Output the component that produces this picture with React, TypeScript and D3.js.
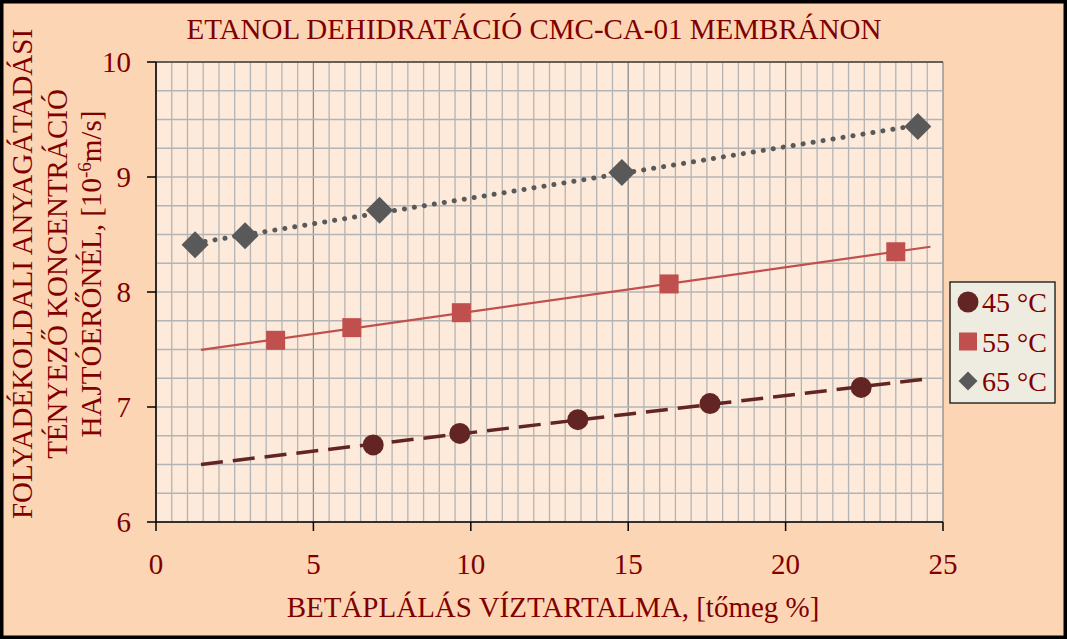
import React from "react";
import * as d3 from "d3";

const W = 1067;
const H = 639;

const title = "ETANOL DEHIDRATÁCIÓ CMC-CA-01 MEMBRÁNON";
const xTitle = "BETÁPLÁLÁS VÍZTARTALMA, [tőmeg %]";
const yTitleLines = ["FOLYADÉKOLDALI ANYAGÁTADÁSI", "TÉNYEZŐ KONCENTRÁCIÓ", "HAJTÓERŐNÉL, [10"];

const xTicks = [0, 5, 10, 15, 20, 25];
const yTicks = [6, 7, 8, 9, 10];

const seriesNames = ["45 °C", "55 °C", "65 °C"];

const x45 = [6.9, 9.65, 13.4, 17.6, 22.4];
const y45 = [6.67, 6.77, 6.89, 7.03, 7.17];
const x55 = [3.8, 6.22, 9.7, 16.3, 23.5];
const y55 = [7.58, 7.69, 7.82, 8.07, 8.35];
const x65 = [1.24, 2.83, 7.1, 14.8, 24.2];
const y65 = [8.41, 8.49, 8.71, 9.04, 9.44];

const trendRange45 = [1.43, 24.5];
const trendRange55 = [1.43, 24.6];
const trendRange65 = [1.24, 24.2];

const colors = ["#632523", "#C0504D", "#595959"];
const textColor = "#800000";
const font = "'Liberation Serif', 'Times New Roman', serif";

const plot = { left: 156, right: 943, top: 62, bottom: 522 };

function fit(xs: number[], ys: number[]) {
  const mx = d3.mean(xs)!;
  const my = d3.mean(ys)!;
  let num = 0, den = 0;
  xs.forEach((x, i) => { num += (x - mx) * (ys[i] - my); den += (x - mx) * (x - mx); });
  const b = num / den;
  const a = my - b * mx;
  return (x: number) => a + b * x;
}

export default function App() {
  const x = d3.scaleLinear().domain([0, 25]).range([plot.left, plot.right]);
  const y = d3.scaleLinear().domain([6, 10]).range([plot.bottom, plot.top]);

  const xMinor = d3.range(0, 25.001, 0.5);
  const yMinor = d3.range(6, 10.001, 0.25);

  const series = [
    { xs: x45, ys: y45, range: trendRange45 },
    { xs: x55, ys: y55, range: trendRange55 },
    { xs: x65, ys: y65, range: trendRange65 },
  ];

  const line = d3.line<[number, number]>().x((d) => x(d[0])).y((d) => y(d[1]));

  const marker = (i: number, cx: number, cy: number, key: string | number, legend = false) => {
    if (i === 0) return <circle key={key} cx={cx} cy={cy} r={10.5} fill={colors[0]} />;
    if (i === 1) {
      const s = legend ? 18 : 19;
      return <rect key={key} x={cx - s / 2} y={cy - s / 2} width={s} height={s} fill={colors[1]} />;
    }
    const r = legend ? 9.5 : 13.5;
    return (
      <path key={key} d={`M${cx},${cy - r}L${cx + r},${cy}L${cx},${cy + r}L${cx - r},${cy}Z`} fill={colors[2]} />
    );
  };

  const dashes = ["22,10", "", "0.1,10"];
  const widths = [3.5, 2.2, 5];
  const caps = ["butt", "butt", "round"];

  return (
    <svg width={W} height={H} style={{ position: "absolute", left: 0, top: 0 }} fontFamily={font}>
      <rect x={0} y={0} width={W} height={H} fill="#FCD5B5" />
      <rect x={1.5} y={1.5} width={W - 3} height={H - 3} fill="none" stroke="#000" strokeWidth={4} />
      <text x={534} y={38.5} textAnchor="middle" fontSize={29} fill={textColor}>{title}</text>

      <rect x={plot.left} y={plot.top} width={plot.right - plot.left} height={plot.bottom - plot.top} fill="#FDEADA" />
      {xMinor.map((v, i) => (
        <line key={"xg" + i} x1={x(v)} x2={x(v)} y1={plot.top} y2={plot.bottom}
          stroke={i % 10 === 0 ? "#8c8c8c" : "#b4b4b4"} strokeWidth={1.3} />
      ))}
      {yMinor.map((v, i) => (
        <line key={"yg" + i} x1={plot.left} x2={plot.right} y1={y(v)} y2={y(v)}
          stroke="#b4b4b4" strokeWidth={1.3} />
      ))}
      <line x1={plot.left} x2={plot.left} y1={plot.top} y2={plot.bottom} stroke="#000" strokeWidth={1.5} />
      <line x1={plot.left} x2={plot.right} y1={plot.bottom} y2={plot.bottom} stroke="#000" strokeWidth={1.5} />
      <line x1={plot.left} x2={plot.right} y1={plot.top} y2={plot.top} stroke="#000" strokeWidth={1} />

      {yTicks.map((v) => (
        <g key={"yt" + v}>
          <line x1={plot.left - 9} x2={plot.left} y1={y(v)} y2={y(v)} stroke="#000" strokeWidth={1.5} />
          <text x={131} y={y(v) + 10} textAnchor="end" fontSize={29} fill={textColor}>{v}</text>
        </g>
      ))}
      {xTicks.map((v) => (
        <g key={"xt" + v}>
          <line x1={x(v)} x2={x(v)} y1={plot.bottom} y2={plot.bottom + 9} stroke="#000" strokeWidth={1.5} />
          <text x={x(v)} y={574} textAnchor="middle" fontSize={29} fill={textColor}>{v}</text>
        </g>
      ))}

      <text x={553} y={617} textAnchor="middle" fontSize={29} fill={textColor}>{xTitle}</text>

      <g transform="translate(0,274) rotate(-90)">
        {yTitleLines.map((t, i) => (
          <text key={i} x={0} y={32 + i * 34.5} textAnchor="middle" fontSize={29} fill={textColor}>
            {t}
            {i === 2 ? (
              <>
                <tspan dy={-10} fontSize={19}>-6</tspan>
                <tspan dy={10}>m/s]</tspan>
              </>
            ) : null}
          </text>
        ))}
      </g>

      {series.map((s, i) => {
        const f = fit(s.xs, s.ys);
        const pts: [number, number][] = [[s.range[0], f(s.range[0])], [s.range[1], f(s.range[1])]];
        return (
          <path key={"tr" + i} d={line(pts) || ""} fill="none" stroke={colors[i]} strokeWidth={widths[i]}
            strokeDasharray={dashes[i] || undefined} strokeLinecap={caps[i] as any} />
        );
      })}
      {series.map((s, i) => s.xs.map((xv, j) => marker(i, x(xv), y(s.ys[j]), `m${i}-${j}`)))}

      <rect x={950} y={282} width={105} height={121} fill="#EEECE1" stroke="#000" strokeWidth={1.2} />
      {seriesNames.map((n, i) => (
        <g key={"lg" + i}>
          {marker(i, 968, 302 + i * 39.5, "lm" + i, true)}
          <text x={982} y={312 + i * 39.5} fontSize={28} fill={textColor}>{n}</text>
        </g>
      ))}
    </svg>
  );
}
